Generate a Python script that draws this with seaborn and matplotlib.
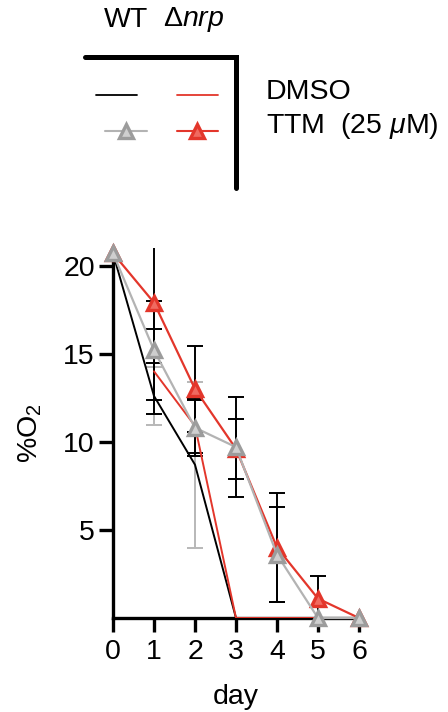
import numpy as np
import pandas as pd
import matplotlib
matplotlib.use("Agg")
import matplotlib.pyplot as plt
import seaborn as sns

# Data
days = [0, 1, 2, 3, 4, 5, 6]
wt_dmso = [20.7, 12.6, 8.7, 0, 0, 0, 0]
wt_dmso_sd = [np.nan, 1.65, 4.7, 0, np.nan, np.nan, np.nan]
nrp_dmso = [np.nan, 14.0, 10.9, 0, 0, 0, 0]
nrp_dmso_sd = [np.nan, 2.4, 1.55, np.nan, np.nan, np.nan, np.nan]
wt_ttm = [20.7, 15.2, 10.8, 9.7, 3.6, 0, 0]
wt_ttm_sd = [np.nan, 2.8, 1.6, 2.85, 2.7, np.nan, np.nan]
nrp_ttm = [20.7, 17.9, 13.0, 9.6, 4.0, 1.1, 0]
nrp_ttm_sd = [np.nan, 3.4, 2.45, 1.7, 3.1, 1.3, np.nan]

yticks = [5, 10, 15, 20]

RED = "#e3362b"
GRAY_LINE = "#b3b3b3"
GRAY_MK = "#9c9c9c"
FS = 20.5

sns.set_theme(style="ticks")
plt.rcParams["font.family"] = ["Liberation Sans", "DejaVu Sans"]
plt.rcParams["mathtext.fontset"] = "custom"
plt.rcParams["mathtext.rm"] = "Liberation Sans"
plt.rcParams["mathtext.it"] = "Liberation Sans:italic"
plt.rcParams["text.color"] = "black"
plt.rcParams["axes.labelcolor"] = "black"

fig = plt.figure(figsize=(4.48, 7.12), dpi=100)
ax = fig.add_axes([113 / 448, 1 - 618 / 712, (359 - 113) / 448, 370 / 712])

# error bars first
ax.errorbar(days, wt_dmso, yerr=wt_dmso_sd, fmt="none", ecolor="#b8b8b8",
            elinewidth=1.4, capsize=6, capthick=1.4, zorder=2)
for vals, sd in [(nrp_dmso, nrp_dmso_sd), (wt_ttm, wt_ttm_sd), (nrp_ttm, nrp_ttm_sd)]:
    ax.errorbar(days, vals, yerr=sd, fmt="none", ecolor="black",
                elinewidth=1.4, capsize=6, capthick=1.4, zorder=2)

# lines
sns.lineplot(x=days, y=wt_dmso, ax=ax, color="black", lw=1.4, zorder=3)
sns.lineplot(x=days, y=nrp_dmso, ax=ax, color=RED, lw=1.4, zorder=3)
sns.lineplot(x=days, y=nrp_ttm, ax=ax, color=RED, lw=1.6, marker="^",
             markersize=10, markerfacecolor="#f06a60", markeredgecolor=RED,
             markeredgewidth=2.4, clip_on=False, zorder=4)
sns.lineplot(x=days, y=wt_ttm, ax=ax, color=GRAY_LINE, lw=1.6, marker="^",
             markersize=10, markerfacecolor="#cfcfcf", markeredgecolor=GRAY_MK,
             markeredgewidth=2.4, clip_on=False, zorder=5)

ax.set_xlim(0, 6)
ax.set_ylim(0, 21)
ax.set_xticks(days)
ax.set_yticks(yticks)
ax.tick_params(axis="both", length=10, width=2.4, labelsize=FS, color="black",
               labelcolor="black")
ax.tick_params(axis="x", pad=5)
ax.tick_params(axis="y", pad=3)
for s in ["left", "bottom"]:
    ax.spines[s].set_linewidth(2.4)
    ax.spines[s].set_color("black")
sns.despine(ax=ax)
ax.set_facecolor("none")
ax.set_xlabel("day", fontsize=FS, labelpad=14)
ax.set_ylabel("%O$_2$", fontsize=FS, labelpad=14)

# legend block drawn in pixel space
lg = fig.add_axes([0, 0, 1, 1], zorder=-1)
lg.set_xlim(0, 448)
lg.set_ylim(712, 0)
lg.axis("off")
lg.plot([85, 236, 236], [57, 57, 188], color="black", lw=3.6,
        solid_joinstyle="miter")
lg.text(126, 20, "WT", fontsize=FS, ha="center", va="center")
lg.text(194, 20, "Δ$nrp$", fontsize=FS, ha="center", va="center")
lg.plot([96, 137], [95, 95], color="black", lw=1.3)
lg.plot([177, 218], [95, 95], color=RED, lw=1.3)
lg.plot([105, 147], [131, 131], color=GRAY_LINE, lw=1.5)
lg.plot([126], [131], marker="^", markersize=10, markerfacecolor="#cfcfcf",
        markeredgecolor=GRAY_MK, markeredgewidth=2.4)
lg.plot([177, 218], [131, 131], color=RED, lw=1.5)
lg.plot([197], [131], marker="^", markersize=10, markerfacecolor="#f06a60",
        markeredgecolor=RED, markeredgewidth=2.4)
lg.text(266, 92, "DMSO", fontsize=FS, ha="left", va="center")
lg.text(266, 126, "TTM  (25 $\\mu$M)", fontsize=FS, ha="left", va="center")

fig.savefig("out.png", dpi=100)
